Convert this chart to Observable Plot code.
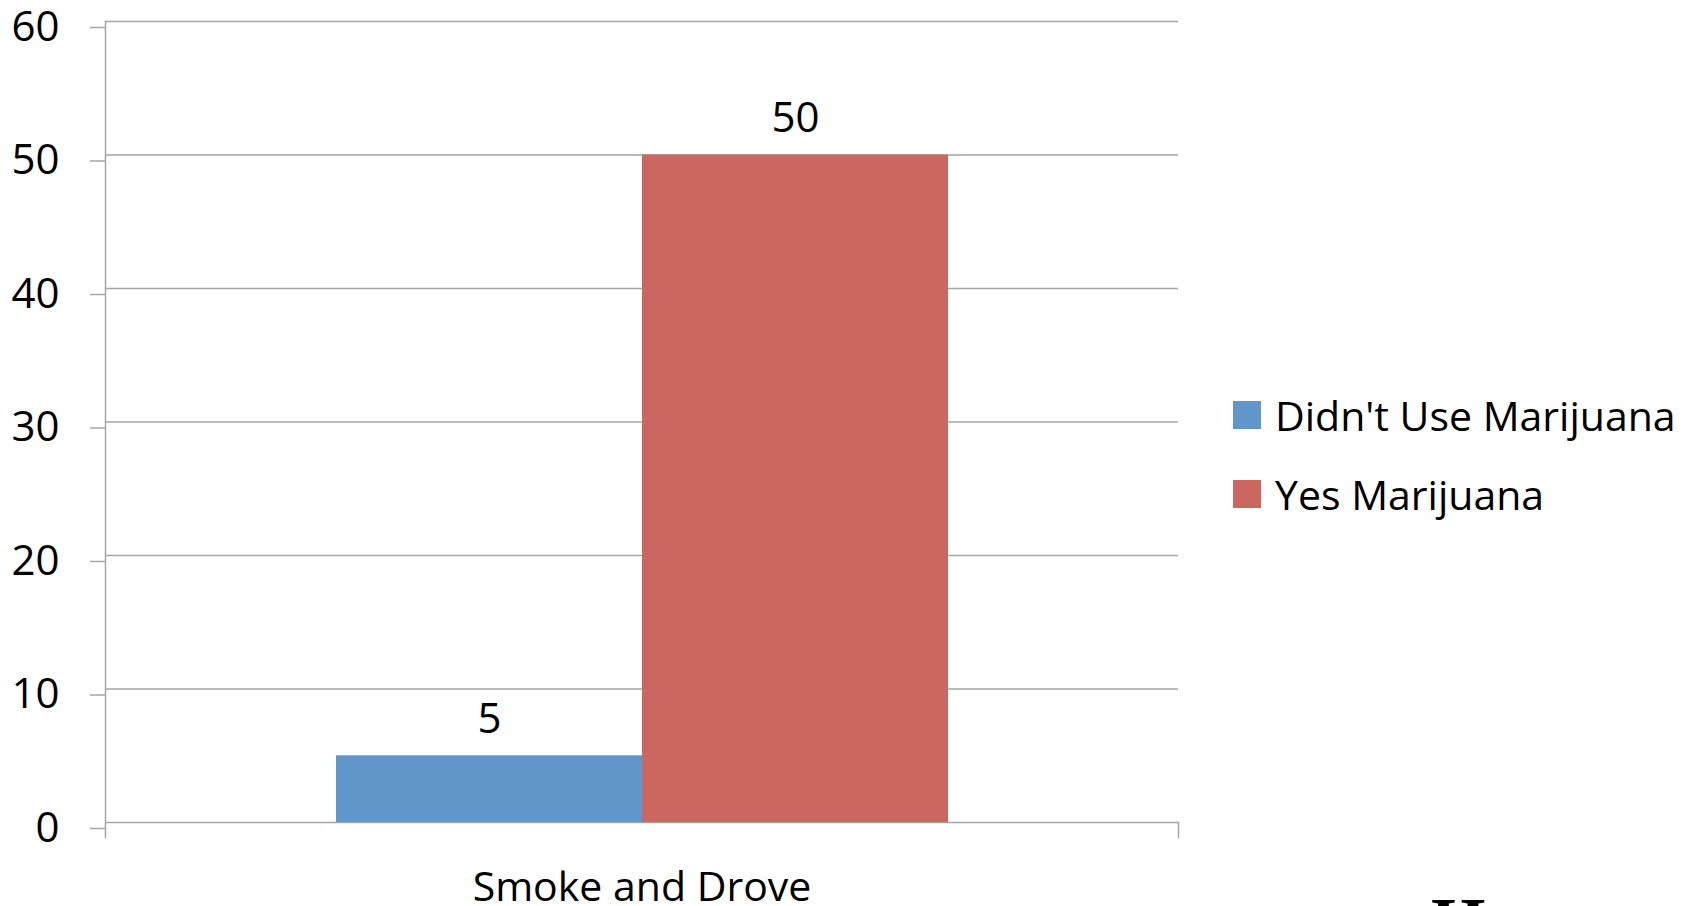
<!DOCTYPE html>
<html>
<head>
<meta charset="utf-8">
<script src="https://cdn.jsdelivr.net/npm/d3@7"></script>
<script src="https://cdn.jsdelivr.net/npm/@observablehq/plot@0.6"></script>
<style>
  html, body { margin: 0; padding: 0; background: #fff; overflow: hidden; }
  #wrap { position: relative; width: 1702px; height: 906px; overflow: hidden; background: #fff; }
  #chart { position: absolute; left: 0; top: 0; }
  #legend { position: absolute; left: 1233px; top: 375px; }
  #legend .lg-swatches { font-family: "Open Sans", sans-serif; font-size: 41px; color: #000; margin: 0; }
  #legend .lg-swatch { height: 79px; padding-bottom: 0; display: flex; align-items: center; }
  #legend .lg-swatch > svg { margin-right: 14px; }
  #corner { position: absolute; left: 1431px; top: 888px; font-family: "Liberation Serif", serif; font-weight: bold; font-size: 70px; line-height: 1; color: #000; }
</style>
</head>
<body>
<div id="wrap">
  <div id="chart"></div>
  <div id="legend"></div>
  <div id="corner">H</div>
</div>
<script>
const categories = ["Smoke and Drove"];
const series = ["Didn't Use Marijuana", "Yes Marijuana"];
const values = [5, 50];
const colors = ["#6096c9", "#cc6661"];
const yTicks = [0, 10, 20, 30, 40, 50, 60];

const data = series.map((s, i) => ({category: categories[0], series: s, value: values[i]}));

const W = 1702, H = 906;
const mL = 105, mR = 524, mT = 21, mB = 84;
const gridColor = "#a6a6a6";
const frameH = H - mT - mB;

const chart = Plot.plot({
  width: W, height: H,
  marginLeft: mL, marginRight: mR, marginTop: mT, marginBottom: mB,
  style: {fontFamily: "Open Sans, sans-serif", color: "#000", background: "#fff", overflow: "visible"},
  fx: {domain: categories, padding: 0, label: null},
  x: {domain: series, paddingInner: 0, paddingOuter: 0.7476, axis: null},
  y: {domain: [0, 60], label: null},
  color: {domain: series, range: colors},
  marks: [
    Plot.gridY(yTicks, {stroke: gridColor, strokeOpacity: 1, strokeWidth: 1.5}),
    Plot.barY(data, {fx: "category", x: "series", y: "value", fill: "series", inset: 0}),
    Plot.axisY(yTicks, {tickSize: 15, tickPadding: 31, stroke: gridColor, strokeWidth: 1.5, fontSize: 42, dy: 6, label: null, tickFormat: d => String(d)}),
    Plot.frame({anchor: "left", stroke: gridColor, strokeWidth: 1.5, insetBottom: -15}),
    Plot.frame({anchor: "right", stroke: gridColor, strokeWidth: 1.5, insetTop: frameH, insetBottom: -15}),
    Plot.text(data, {fx: "category", x: "series", y: "value", text: d => String(d.value), dy: -36, fontSize: 42, fill: "#000"}),
    Plot.axisFx({anchor: "bottom", tickSize: 0, tickPadding: 49, fontSize: 41, label: null})
  ]
});
document.getElementById("chart").appendChild(chart);

const legend = Plot.legend({
  color: {domain: series, range: colors},
  legend: "swatches",
  swatchSize: 28,
  columns: 1,
  className: "lg"
});
document.getElementById("legend").appendChild(legend);
</script>
</body>
</html>
